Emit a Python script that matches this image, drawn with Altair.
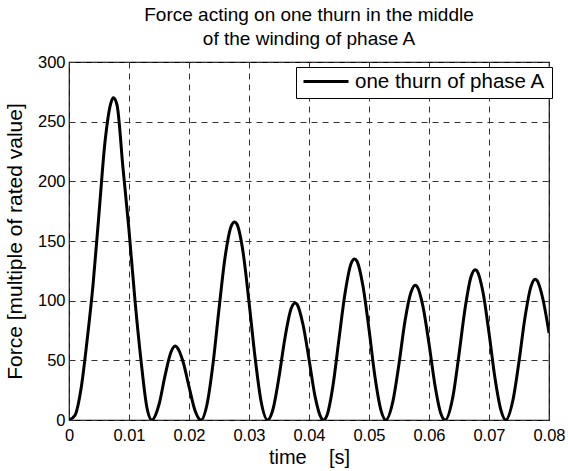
import altair as alt
import pandas as pd

# time [s]
t = [0.0, 0.001, 0.002, 0.003, 0.004, 0.005, 0.006, 0.007, 0.0074, 0.008, 0.009, 0.010, 0.011, 0.012, 0.013, 0.0138,
     0.015, 0.016, 0.017, 0.0177, 0.018, 0.019, 0.020, 0.021, 0.022,
     0.023, 0.024, 0.025, 0.026, 0.027, 0.0276, 0.028, 0.029, 0.030, 0.031, 0.032, 0.0331,
     0.034, 0.035, 0.036, 0.037, 0.0377, 0.038, 0.039, 0.040, 0.041, 0.042, 0.0424,
     0.043, 0.044, 0.045, 0.046, 0.047, 0.0476, 0.048, 0.049, 0.050, 0.051, 0.052, 0.0528,
     0.054, 0.055, 0.056, 0.057, 0.0577, 0.058, 0.059, 0.060, 0.061, 0.062, 0.0627,
     0.064, 0.065, 0.066, 0.067, 0.0677, 0.068, 0.069, 0.070, 0.071, 0.072, 0.0728,
     0.074, 0.075, 0.076, 0.077, 0.0777, 0.078, 0.079, 0.080]
# force [multiple of rated value]
force = [0, 4, 26, 66, 113, 173, 233, 266, 270, 264, 211, 159, 100, 50, 10, 0,
         13, 37, 57, 62, 61, 49, 28, 8, 0,
         13, 47, 93, 136, 162, 166, 164, 141, 99, 53, 16, 0,
         9, 36, 69, 93, 98, 97, 80, 51, 20, 2, 0,
         4, 29, 68, 106, 131, 135, 133, 112, 76, 36, 8, 0,
         16, 47, 83, 107, 113, 112, 95, 64, 29, 5, 0,
         20, 55, 93, 120, 126, 125, 107, 73, 35, 8, 0,
         17, 49, 86, 112, 118, 117, 101, 73]
series_name = "one thurn of phase A"

x_ticks = [0, 0.01, 0.02, 0.03, 0.04, 0.05, 0.06, 0.07, 0.08]
y_ticks = [0, 50, 100, 150, 200, 250, 300]

df = pd.DataFrame({"t": t, "F": force, "s": [series_name] * len(t)})

FONT = "Liberation Sans"

line = alt.Chart(df).mark_line(strokeWidth=3, interpolate="monotone", clip=True).encode(
    x=alt.X("t:Q", scale=alt.Scale(domain=[0, 0.08], nice=False, zero=False),
            axis=alt.Axis(values=x_ticks, format="~g", title="time \u00a0\u00a0 [s]",
                          grid=True, gridDash=[6, 5], gridColor="#333333", gridOpacity=1,
                          ticks=False, labelPadding=7, domain=False,
                          labelFontSize=16.5, titleFontSize=20, titleFontWeight="normal",
                          titleBaseline="alphabetic", titleY=43, labelFlush=False)),
    y=alt.Y("F:Q", scale=alt.Scale(domain=[0, 300], nice=False),
            axis=alt.Axis(values=y_ticks, title="Force [multiple of rated value]",
                          grid=True, gridDash=[6, 5], gridColor="#333333", gridOpacity=1,
                          ticks=False, labelPadding=4, domain=False,
                          labelFontSize=16.5, titleFontSize=21, titleFontWeight="normal",
                          titleBaseline="alphabetic", titleAngle=-90, titleX=-48, titleY=179,
                          titleAlign="center")),
    color=alt.Color("s:N", scale=alt.Scale(range=["black"]),
                    legend=alt.Legend(title=None, orient="none", legendX=227, legendY=5,
                                      symbolType="stroke", symbolSize=2025, symbolStrokeWidth=3,
                                      labelFontSize=20.5, labelOffset=5, padding=6,
                                      clipHeight=17,
                                      strokeColor="black", fillColor="white", cornerRadius=0,
                                      labelLimit=400)),
)

chart = line.properties(
    width=480, height=358,
    title=alt.TitleParams(["Force acting on one thurn in the middle", "of the winding of phase A"],
                          fontSize=19, fontWeight="normal", lineHeight=24, offset=5,
                          anchor="middle", color="black", font=FONT),
    autosize=alt.AutoSizeParams(type="none"),
    padding={"left": 69, "top": 62, "right": 19, "bottom": 51},
).configure(font=FONT).configure_view(stroke="black", strokeWidth=1.2).configure_axis(
    labelColor="black", titleColor="black", labelFont=FONT, titleFont=FONT
).configure_legend(labelColor="black", labelFont=FONT)

chart.save("out.html", embed_options={"renderer": "svg", "actions": False})
